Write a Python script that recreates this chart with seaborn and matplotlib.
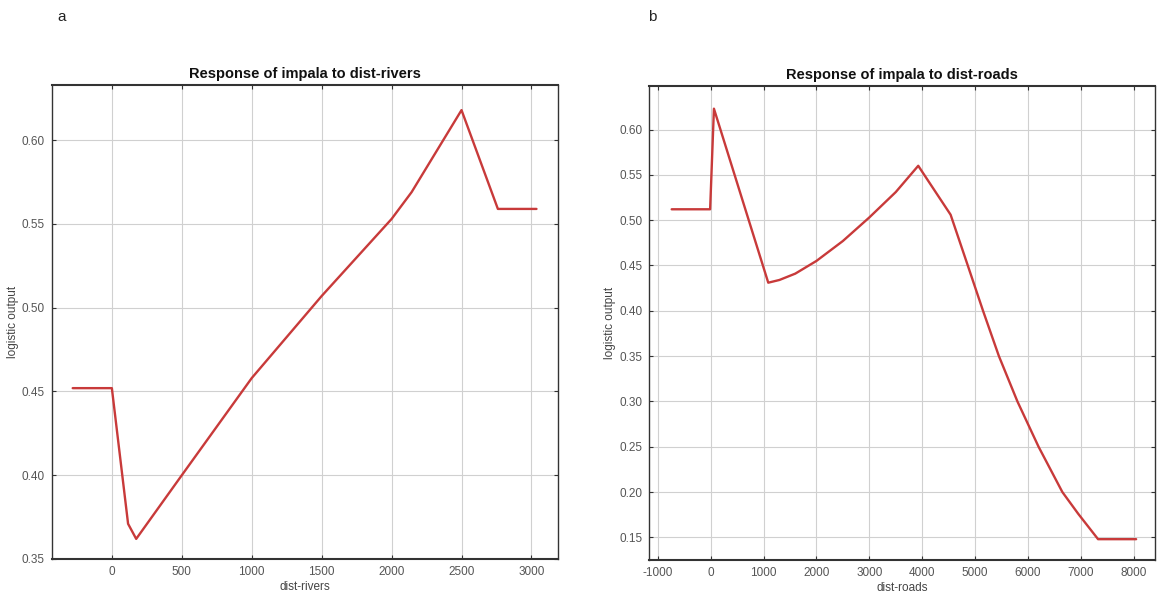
import matplotlib
matplotlib.use("Agg")
import matplotlib.pyplot as plt
import seaborn as sns
import pandas as pd

# Response curve: distance to rivers
rivers_x = [-280, 0, 116, 174, 500, 1000, 1500, 2000, 2143, 2500, 2760, 3036]
rivers_y = [0.452, 0.452, 0.371, 0.362, 0.400, 0.458, 0.507, 0.553, 0.569, 0.618, 0.559, 0.559]

# Response curve: distance to roads
roads_x = [-737, -10, 62, 1089, 1300, 1600, 2000, 2500, 3000, 3500, 3925, 4537,
           4850, 5150, 5450, 5800, 6200, 6650, 6950, 7325, 8045]
roads_y = [0.512, 0.512, 0.623, 0.431, 0.434, 0.441, 0.455, 0.477, 0.503, 0.531, 0.560, 0.506,
           0.452, 0.400, 0.350, 0.300, 0.250, 0.200, 0.176, 0.148, 0.148]

rivers_xticks = [0, 500, 1000, 1500, 2000, 2500, 3000]
rivers_yticks = [0.35, 0.40, 0.45, 0.50, 0.55, 0.60]
roads_xticks = [-1000, 0, 1000, 2000, 3000, 4000, 5000, 6000, 7000, 8000]
roads_yticks = [0.15, 0.20, 0.25, 0.30, 0.35, 0.40, 0.45, 0.50, 0.55, 0.60]

sns.set_theme(style="whitegrid")
plt.rcParams["font.family"] = ["Liberation Sans", "DejaVu Sans"]
plt.rcParams["axes.unicode_minus"] = False

fig = plt.figure(figsize=(11.57, 6.14), dpi=100)
ax1 = fig.add_axes([0.0447, 0.0896, 0.4376, 0.772])
ax2 = fig.add_axes([0.5612, 0.0879, 0.4370, 0.772])

line_color = "#c83a3a"
panels = [
    (ax1, rivers_x, rivers_y, "dist-rivers", "Response of impala to dist-rivers",
     rivers_xticks, rivers_yticks, (-430, 3190), (0.35, 0.633)),
    (ax2, roads_x, roads_y, "dist-roads", "Response of impala to dist-roads",
     roads_xticks, roads_yticks, (-1160, 8400), (0.125, 0.648)),
]

for ax, xs, ys, xlab, title, xt, yt, xl, yl in panels:
    df = pd.DataFrame({xlab: xs, "logistic output": ys})
    sns.lineplot(data=df, x=xlab, y="logistic output", ax=ax,
                 color=line_color, linewidth=1.7, sort=False)
    ax.set_xlim(*xl)
    ax.set_ylim(*yl)
    ax.set_xticks(xt)
    ax.set_yticks(yt)
    ax.set_yticklabels([f"{v:.2f}" for v in yt])
    ax.set_facecolor("white")
    ax.grid(True, color="#d0d0d0", linewidth=0.8)
    for side in ["top", "bottom", "right", "left"]:
        ax.spines[side].set_visible(True)
        ax.spines[side].set_color("#333333")
        ax.spines[side].set_linewidth(1.5 if side in ("top", "bottom") else 1.0)
    ax.tick_params(axis="both", direction="in", length=3, width=0.8,
                   colors="#333333", labelcolor="#555555", labelsize=8.5,
                   top=True, right=True, bottom=True, left=True, pad=5)
    ax.set_xlabel(xlab, fontsize=8.5, color="#444444", labelpad=2)
    ax.set_ylabel("logistic output", fontsize=8.5, color="#444444", labelpad=2)
    ax.set_title(title, fontsize=10.5, fontweight="bold", color="#111111", pad=5)

fig.text(0.050, 0.972, "a", fontsize=11, color="#222222", va="center")
fig.text(0.560, 0.972, "b", fontsize=11, color="#222222", va="center")

fig.savefig("out.png", dpi=100, facecolor="white")
